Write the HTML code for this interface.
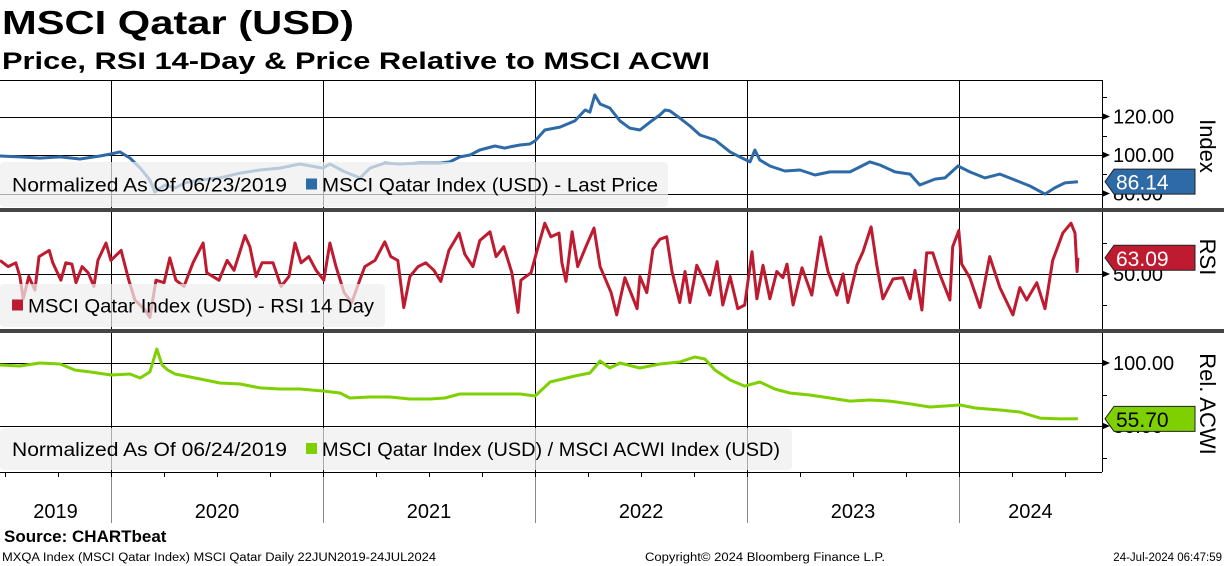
<!DOCTYPE html>
<html><head><meta charset="utf-8">
<style>
html,body{margin:0;padding:0;background:#fff;}
svg{display:block;font-family:"Liberation Sans","DejaVu Sans",sans-serif;}
</style></head>
<body>
<svg id="chart" width="1224" height="566" viewBox="0 0 1224 566" xmlns="http://www.w3.org/2000/svg">
<text x="2" y="34" font-size="33" font-weight="bold" textLength="352" lengthAdjust="spacingAndGlyphs">MSCI Qatar (USD)</text>
<text x="2" y="69" font-size="24" font-weight="bold" textLength="708" lengthAdjust="spacingAndGlyphs">Price, RSI 14-Day &amp; Price Relative to MSCI ACWI</text>
<g id="grid"></g>
<g id="series"></g>
<g id="overlay"></g>
<text x="4" y="542" font-size="17" font-weight="bold">Source: CHARTbeat</text>
<text x="2" y="561" font-size="11.5" textLength="434" lengthAdjust="spacingAndGlyphs">MXQA Index (MSCI Qatar Index) MSCI Qatar  Daily 22JUN2019-24JUL2024</text>
<text x="645" y="561" font-size="11.5" textLength="240" lengthAdjust="spacingAndGlyphs">Copyright© 2024 Bloomberg Finance L.P.</text>
<text x="1222" y="561" font-size="11.5" text-anchor="end">24-Jul-2024 06:47:59</text>
</svg>
<script>
// ---- data (weeks since 22-Jun-2019) ----
const priceWeeks = [0,4.9,9.8,14.8,19.7,24.6,27.3,29.5,32,34.5,36.9,38.1,40.6,43.1,45.5,49.2,54.1,59.1,64,68.9,73.8,79.5,81.2,84.9,88.6,91.1,94.7,98.4,103.4,108.3,110.7,113.2,115.7,118.1,121.8,124.3,125.5,128,130.4,131.7,134.1,137.8,141.5,144,145.2,146.4,147.7,150.1,152.6,155,157.5,160,162.4,163.7,164.9,167.3,169.8,172.3,176,179.7,182.1,184.6,185.8,187,189.5,193.2,196.9,200.6,204.3,209.2,214.1,216.6,220.3,224,226.4,230.1,232.6,235.8,238.7,242.4,246.1,249.8,253.5,257.2,259.6,262.1,265.3];
const priceValues = [99.5,99.0,98.4,99.0,97.9,99.5,100.5,101.6,98.4,93.2,87.0,80.8,84.4,82.9,85.5,87.0,88.1,90.6,92.2,93.2,95.3,93.2,95.3,91.2,88.1,93.2,95.8,95.3,95.8,95.8,96.4,99.0,100,102.6,104.7,103.6,104.2,105.2,105.7,107.3,113.0,114.5,117.7,123.4,122.3,131.2,126.5,124.4,117.7,114.0,113.0,117.1,120.8,123.4,122.9,119.2,115.1,110.4,107.8,101.6,99.0,96.4,102.6,97.4,94.3,91.7,92.2,89.6,91.2,91.2,96.4,94.8,91.2,90.1,84.4,87.5,88.1,94.3,91.2,88.1,90.1,87.0,83.9,79.7,82.9,85.5,86.14];
const rsiWeeks = [0,2.0,3.9,4.9,5.7,7.1,8.6,9.6,12.1,13.0,15.0,16.2,17.7,18.7,20.2,21.7,23.1,24.1,26.1,27.3,29.8,31.7,33.2,35.7,36.9,38.4,40.4,41.8,43.3,45.3,47.5,50.0,50.9,53.9,55.9,57.6,60.3,61.5,63.0,64.5,67.2,69.2,71.1,72.6,74.1,76.0,77.8,79.7,81.2,82.7,84.7,86.6,88.3,89.8,92.3,94.7,96.2,97.9,99.4,100.9,102.9,104.8,106.8,108.5,110.5,113.0,114.4,116.4,118.1,120.6,122.1,124.0,126.0,127.5,128.2,130.7,132.2,134.1,135.6,137.6,138.3,139.3,140.8,142.2,144.2,146.2,147.7,150.4,151.8,153.8,156.8,157.5,159.2,160.7,162.4,164.1,165.4,167.3,168.6,169.8,171.5,173.0,174.7,176.5,177.9,179.7,181.6,183.3,185.1,186.3,187.8,189.5,191.2,192.7,193.7,195.2,197.4,199.8,202.0,203.8,206.0,207.5,208.7,210.9,212.4,214.4,215.8,217.3,219.8,222.2,224.0,225.2,226.9,228.1,229.6,231.3,233.8,234.5,236.0,236.7,238.7,241.2,243.6,246.1,249.3,251.0,252.7,255.2,257.2,259.1,261.6,263.6,264.6,265.1,265.3];
const rsiValues = [61,56,59,48,30,48,37,64,69,59,45,59,58,43,56,51,40,61,75,61,69,45,29,21,15,45,43,63,45,40,59,75,51,45,61,53,81,72,48,59,59,40,48,75,59,64,53,45,75,56,35,27,43,56,61,76,64,61,23,48,56,59,53,44,69,83,66,56,77,84,64,72,51,19,45,51,69,91,80,83,59,44,84,56,72,87,56,35,17,47,22,48,35,70,78,80,52,27,52,27,57,47,33,60,25,48,22,25,68,30,57,30,52,47,58,25,55,33,80,52,33,50,27,57,68,88,57,30,46,47,30,53,21,67,67,50,29,72,85,58,47,23,64,39,17,39,29,43,22,61,83,91,83,52,63.09];
const relWeeks = [0,4.9,9.8,14.8,18.5,22.1,27.3,32,34.5,36.9,38.6,39.9,41.3,43.1,46.8,50.5,54.1,59.1,64,68.9,73.8,79.5,83.7,86.1,91.1,96,100.9,105.8,109.5,113.2,118.1,123.1,128,131.7,135.4,141.5,145.2,147.7,150.1,152.6,157.5,162.4,167.3,171,173.5,176,179.7,183.3,187,190.7,194.4,199.3,204.3,209.2,214.1,219,224,228.9,236.3,240,246.1,251,256,260.9,265.3];
const relValues = [98.4,97.6,100,99.2,94.4,92.9,90.5,91.3,88.1,92.9,111.1,98.4,94.4,91.3,88.9,86.5,84.1,83.3,80.2,79.4,79.4,77.8,76.2,72.2,73.0,73.0,71.4,71.4,72.2,75.4,75.4,75.4,75.4,73.8,84.9,89.7,92.1,101.6,96.0,100,96.0,99.2,100.8,104.8,103.2,94.4,86.5,81.7,84.9,79.4,76.2,74.6,72.2,69.8,70.6,69.8,67.5,65.1,66.7,64.3,62.7,61.1,56.3,55.6,55.7];
const yearLabels = ["2019","2020","2021","2022","2023","2024"];
const yearStartWeeks = [27.3,79.5,131.7,183.9,236.0];
const priceTicks = [80,100,120];
const rsiTicks = [50];
const relTicks = [50,100];
const lastPrice = "86.14", lastRsi = "63.09", lastRel = "55.70";

// ---- axes ----
const AXIS_X = 1102;
const PX_PER_WEEK = 212/52.18;
function xS(w){ return w*PX_PER_WEEK; }
function yPrice(v){ return 155 - (v-100)*1.925; }
function yRsi(v){ return 274 - (v-50)*1.24; }
function yRel(v){ return 363 + (100-v)*1.26; }

const NS = "http://www.w3.org/2000/svg";
function mk(parent, tag, attrs){ const e=document.createElementNS(NS,tag); for(const k in attrs) e.setAttribute(k,attrs[k]); parent.appendChild(e); return e; }
const grid=document.getElementById('grid'), series=document.getElementById('series'), overlay=document.getElementById('overlay');

let l=mk(grid,'line',{x1:0,y1:80.5,x2:AXIS_X,y2:80.5,stroke:'#000','stroke-width':1});
 
l=mk(grid,'line',{x1:AXIS_X+0.5,y1:80,x2:AXIS_X+0.5,y2:472,stroke:'#000','stroke-width':1});
 
l=mk(grid,'line',{x1:0,y1:472.5,x2:AXIS_X,y2:472.5,stroke:'#000','stroke-width':1});
 

yearStartWeeks.forEach((w,i)=>{
  const x=Math.round(xS(w))+0.5;
  const g=mk(grid,'line',{x1:x,y1:80,x2:x,y2:472,stroke:'#000','stroke-width':1});
   
  const t=mk(grid,'line',{x1:x,y1:472,x2:x,y2:523,stroke:'#888','stroke-width':1});
   
});
const bounds=[0].concat(yearStartWeeks).concat([(AXIS_X)/PX_PER_WEEK]);
yearLabels.forEach((lab,i)=>{
  const cx=(xS(bounds[i])+xS(bounds[i+1]))/2;
  const t=mk(grid,'text',{x:cx,y:518,'font-size':20,'text-anchor':'middle'});
  t.textContent=lab;
   
});
for(let q=0;q<24;q++){
  const w=yearStartWeeks[0]-52.18+q*13.045;
  const x=Math.round(xS(w))+0.5; if(x>AXIS_X||x<0) continue;
  const t=mk(grid,'line',{x1:x,y1:472,x2:x,y2:477,stroke:'#000','stroke-width':1});
   
}

function hTick(y,label,name){
  const g=mk(grid,'line',{x1:0,y1:Math.round(y)+0.5,x2:AXIS_X,y2:Math.round(y)+0.5,stroke:'#000','stroke-width':1});
   
  const a=mk(grid,'path',{d:`M${AXIS_X} ${y-3.5} L${AXIS_X+8} ${y} L${AXIS_X} ${y+3.5}Z`,fill:'#000'});
   
  const t=mk(grid,'text',{x:AXIS_X+11,y:y+7,'font-size':20});
  t.textContent=label;
   
}
function minorTick(y,name){
  const m=mk(grid,'line',{x1:AXIS_X,y1:Math.round(y)+0.5,x2:AXIS_X+5,y2:Math.round(y)+0.5,stroke:'#000'});
   
}
priceTicks.forEach(v=>hTick(yPrice(v),v.toFixed(2),'price'));
[90,110,130].forEach(v=>minorTick(yPrice(v),'price'));
rsiTicks.forEach(v=>hTick(yRsi(v),v.toFixed(2),'rsi'));
[25,75].forEach(v=>minorTick(yRsi(v),'rsi'));
relTicks.forEach(v=>hTick(yRel(v),v.toFixed(2),'rel'));
[25,75].forEach(v=>minorTick(yRel(v),'rel'));

function line(ws,vs,yf,color,name,clipTop,clipBot){
  const n=Math.min(ws.length,vs.length);
  let d='';
  for(let i=0;i<n;i++){ d+=(i?'L':'M')+xS(ws[i]).toFixed(1)+' '+Math.min(clipBot,Math.max(clipTop,yf(vs[i]))).toFixed(1); }
  const p=mk(series,'path',{d:d,fill:'none',stroke:color,'stroke-width':3,'stroke-linejoin':'round'});
   
}
line(priceWeeks,priceValues,yPrice,'#2e6aa6','price-line',82,207);
line(rsiWeeks,rsiValues,yRsi,'#bf1b30','rsi-line',214,327);
line(relWeeks,relValues,yRel,'#7ed000','rel-acwi-line',335,471);

[[208,4],[329,4]].forEach(s=>{
  const r=mk(overlay,'rect',{x:0,y:s[0],width:1224,height:s[1],fill:'#454545'});
   
});

function legend(x,y,w,h,color,pre,preW,label,labelW,name){
  const g=mk(overlay,'g',{});
   
  mk(g,'rect',{x:x,y:y,width:w,height:h,rx:4,fill:'rgba(238,238,238,0.72)'});
  let tx=x+12;
  if(pre){ const t=mk(g,'text',{x:tx,y:y+h/2+7,'font-size':19,textLength:preW,lengthAdjust:'spacingAndGlyphs'}); t.textContent=pre; tx+=preW+19; }
  mk(g,'rect',{x:tx,y:y+h/2-6,width:11,height:11,fill:color});
  const t2=mk(g,'text',{x:tx+16,y:y+h/2+7,'font-size':19,textLength:labelW,lengthAdjust:'spacingAndGlyphs'}); t2.textContent=label;
}
legend(0,162,668,45,'#2e6aa6','Normalized As Of 06/23/2019',275,'MSCI Qatar Index (USD) - Last Price',336,'price-legend');
legend(0,284,385,43,'#bf1b30','',0,'MSCI Qatar Index (USD) - RSI 14 Day',346,'rsi-legend');
legend(0,428,792,42,'#7ed000','Normalized As Of 06/24/2019',275,'MSCI Qatar Index (USD) / MSCI ACWI Index (USD)',458,'rel-legend');

function tag(y,color,txt,tc,name){
  const g=mk(overlay,'g',{});
   
  mk(g,'path',{d:`M${AXIS_X+3} ${y} L${AXIS_X+12} ${y-12.5} L${AXIS_X+93} ${y-12.5} L${AXIS_X+93} ${y+12.5} L${AXIS_X+12} ${y+12.5}Z`,fill:color,stroke:'#222','stroke-width':1});
  const t=mk(g,'text',{x:AXIS_X+14,y:y+8,'font-size':21,fill:tc}); t.textContent=txt;
}
tag(yPrice(86.14),'#2e6aa6',lastPrice,'#fff','price-last-value-tag');
tag(yRsi(63.09),'#bf1b30',lastRsi,'#fff','rsi-last-value-tag');
tag(yRel(55.70),'#7ed000',lastRel,'#000','rel-last-value-tag');

function vtitle(y,txt,name){
  const t=mk(overlay,'text',{x:1200,y:y,'font-size':22,transform:`rotate(90 1200 ${y})`,'text-anchor':'middle'});
  t.textContent=txt;
   
}
vtitle(146,'Index','price-axis-title');
vtitle(257,'RSI','rsi-axis-title');
vtitle(404,'Rel. ACWI','rel-axis-title');
</script>
</body></html>
